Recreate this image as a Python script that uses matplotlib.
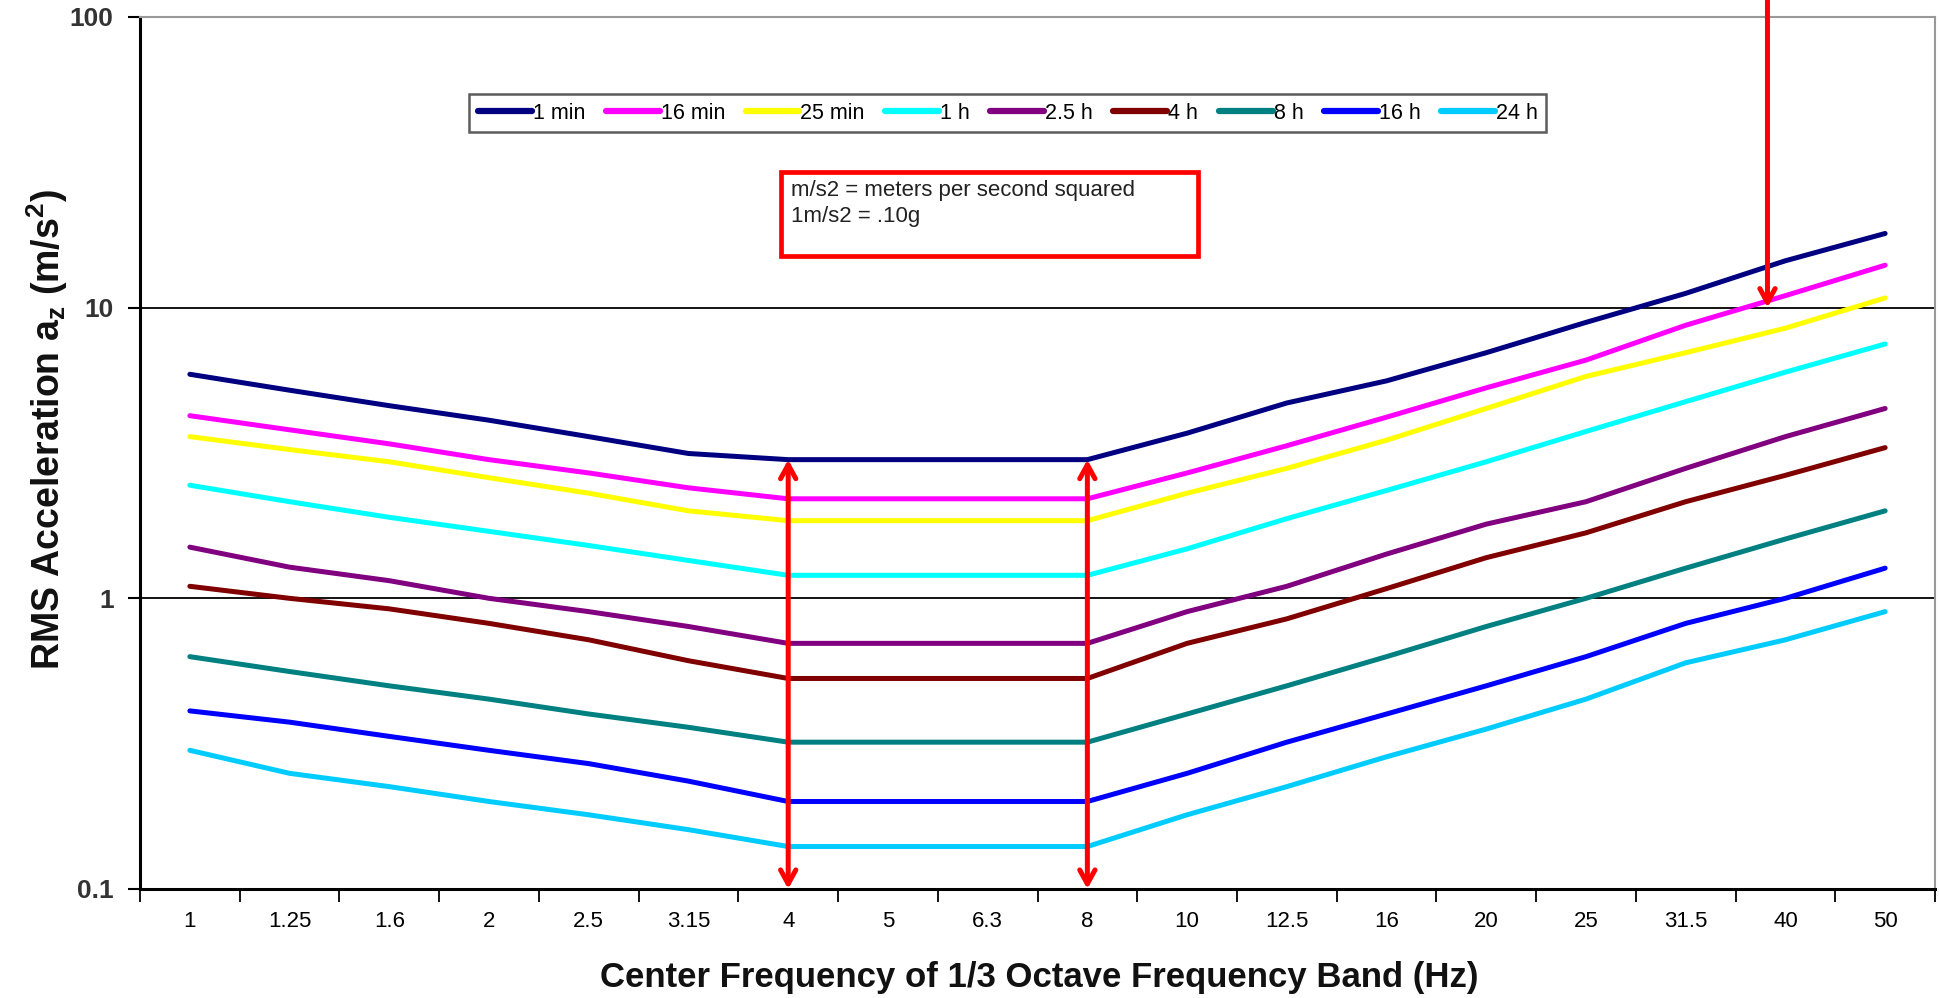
import numpy as np
import matplotlib.pyplot as plt
from matplotlib.patches import Rectangle

# 1/3 octave band centre frequencies (Hz), plotted as categories
FREQ_LABELS = ["1", "1.25", "1.6", "2", "2.5", "3.15", "4", "5", "6.3", "8",
               "10", "12.5", "16", "20", "25", "31.5", "40", "50"]

# RMS acceleration limits a_z (m/s^2) per exposure time
ONE_MIN = [5.9, 5.2, 4.6, 4.1, 3.6, 3.15, 3.0, 3.0, 3.0, 3.0, 3.7, 4.7, 5.6, 7.0, 8.9, 11.2, 14.5, 18.0]
SIXTEEN_MIN = [4.25, 3.8, 3.4, 3.0, 2.7, 2.4, 2.2, 2.2, 2.2, 2.2, 2.7, 3.35, 4.2, 5.3, 6.6, 8.7, 11.0, 14.0]
TWENTYFIVE_MIN = [3.6, 3.25, 2.95, 2.6, 2.3, 2.0, 1.85, 1.85, 1.85, 1.85, 2.3, 2.8, 3.5, 4.5, 5.8, 7.0, 8.5, 10.8]
ONE_H = [2.45, 2.15, 1.9, 1.7, 1.52, 1.35, 1.2, 1.2, 1.2, 1.2, 1.48, 1.88, 2.35, 2.95, 3.75, 4.75, 6.0, 7.5]
TWO_HALF_H = [1.5, 1.28, 1.15, 1.0, 0.9, 0.8, 0.7, 0.7, 0.7, 0.7, 0.9, 1.1, 1.42, 1.8, 2.15, 2.8, 3.6, 4.5]
FOUR_H = [1.1, 1.0, 0.92, 0.82, 0.72, 0.61, 0.53, 0.53, 0.53, 0.53, 0.7, 0.85, 1.08, 1.38, 1.68, 2.15, 2.65, 3.3]
EIGHT_H = [0.63, 0.56, 0.5, 0.45, 0.4, 0.36, 0.32, 0.32, 0.32, 0.32, 0.4, 0.5, 0.63, 0.8, 1.0, 1.27, 1.6, 2.0]
SIXTEEN_H = [0.41, 0.375, 0.335, 0.3, 0.27, 0.235, 0.2, 0.2, 0.2, 0.2, 0.25, 0.32, 0.4, 0.5, 0.63, 0.82, 1.0, 1.27]
TWENTYFOUR_H = [0.3, 0.25, 0.225, 0.2, 0.18, 0.16, 0.14, 0.14, 0.14, 0.14, 0.18, 0.225, 0.285, 0.355, 0.45, 0.6, 0.72, 0.9]

SERIES_LABELS = ["1 min", "16 min", "25 min", "1 h", "2.5 h", "4 h", "8 h", "16 h", "24 h"]
SERIES_COLORS = ["#000080", "#FF00FF", "#FFFF00", "#00FFFF", "#800080",
                 "#800000", "#008080", "#0000FF", "#00CCFF"]

Y_TICKS = [0.1, 1, 10, 100]
Y_TICK_LABELS = ["0.1", "1", "10", "100"]

FONT = ["Liberation Sans", "DejaVu Sans"]

series = [ONE_MIN, SIXTEEN_MIN, TWENTYFIVE_MIN, ONE_H, TWO_HALF_H,
          FOUR_H, EIGHT_H, SIXTEEN_H, TWENTYFOUR_H]

W, H = 1939, 998
fig = plt.figure(figsize=(W / 100, H / 100), dpi=100)
ax = fig.add_axes([140 / W, 1 - 889 / H, (1935 - 140) / W, (889 - 17) / H])

x = np.arange(len(FREQ_LABELS))
for vals, lab, col in zip(series, SERIES_LABELS, SERIES_COLORS):
    ax.plot(x, vals, color=col, lw=3.6, label=lab, solid_capstyle="round", zorder=3)

ax.set_yscale("log")
ax.set_ylim(0.1, 100)
ax.set_xlim(-0.5, len(FREQ_LABELS) - 0.5)

# horizontal gridlines at 1 and 10
for g in [1, 10]:
    ax.axhline(g, color="black", lw=1.3, zorder=1)

ax.set_yticks(Y_TICKS)
ax.set_yticklabels(Y_TICK_LABELS)
ax.yaxis.set_minor_locator(plt.NullLocator())
ax.tick_params(axis="y", which="major", length=9, width=1.5, direction="out",
               labelsize=19, labelcolor="#333333", pad=10)
for t in ax.get_yticklabels():
    t.set_fontweight("bold")
    t.set_family(FONT)

ax.set_xticks(np.arange(-0.5, len(FREQ_LABELS)), labels=[""] * (len(FREQ_LABELS) + 1))
ax.set_xticks(x, labels=FREQ_LABELS, minor=True)
ax.tick_params(axis="x", which="major", length=9, width=1.3, direction="out")
ax.tick_params(axis="x", which="minor", length=0, labelsize=16, pad=16)
for t in ax.get_xticklabels(minor=True):
    t.set_family(FONT)

ax.spines["left"].set_linewidth(2.2)
ax.spines["bottom"].set_linewidth(2.2)
ax.spines["left"].set_color("black")
ax.spines["bottom"].set_color("black")
ax.spines["top"].set_color("#999999")
ax.spines["right"].set_color("#999999")
ax.spines["top"].set_linewidth(1.5)
ax.spines["right"].set_linewidth(1.5)

leg = ax.legend(loc="upper center", bbox_to_anchor=(0.4835, 0.924), ncol=9,
                frameon=True, fancybox=False, handlelength=2.5, handletextpad=0.05,
                columnspacing=0.95, borderpad=0.4, prop={"family": FONT, "size": 15.5})
leg.get_frame().set_edgecolor("#333333")
leg.get_frame().set_linewidth(1.8)
for line in leg.get_lines():
    line.set_linewidth(4.5)

# red double arrows at 4 Hz and 8 Hz
for idx in [6, 9]:
    ax.annotate("", xy=(idx, 0.1), xytext=(idx, ONE_MIN[idx]),
                arrowprops=dict(arrowstyle="<->,head_length=1.0,head_width=0.55",
                                color="#FF0000", lw=3.6, shrinkA=0, shrinkB=0),
                zorder=5, annotation_clip=False)

# red arrow from top down to the 10 m/s^2 line
ax.annotate("", xy=(15.82, 10), xycoords="data", xytext=(15.82, 1.0),
            textcoords=("data", "figure fraction"),
            arrowprops=dict(arrowstyle="->,head_length=1.0,head_width=0.55",
                            color="#FF0000", lw=3.6, shrinkA=0, shrinkB=0),
            zorder=5, annotation_clip=False)

# note box
fig.patches.append(Rectangle((781 / W, 1 - 256 / H), (1198 - 781) / W, (256 - 172) / H,
                             transform=fig.transFigure, fill=True, facecolor="white",
                             edgecolor="#FF0000", lw=3.4, zorder=6))
fig.text(791 / W, 1 - 180 / H, "m/s2 = meters per second squared\n1m/s2 = .10g",
         fontsize=16, family=FONT, color="#222222", va="top", ha="left",
         linespacing=1.3, zorder=7)

fig.text(47 / W, 1 - 430 / H, "RMS Acceleration a$_\\mathregular{z}$ (m/s$^\\mathregular{2}$)",
         rotation=90, ha="center", va="center", fontsize=27, family=FONT,
         fontweight="bold", color="#111111")
fig.text(1039 / W, 1 - 977 / H, "Center Frequency of 1/3 Octave Frequency Band (Hz)",
         ha="center", va="center", fontsize=25, family=FONT, fontweight="bold",
         color="#111111")

fig.savefig("out.png", dpi=100)
